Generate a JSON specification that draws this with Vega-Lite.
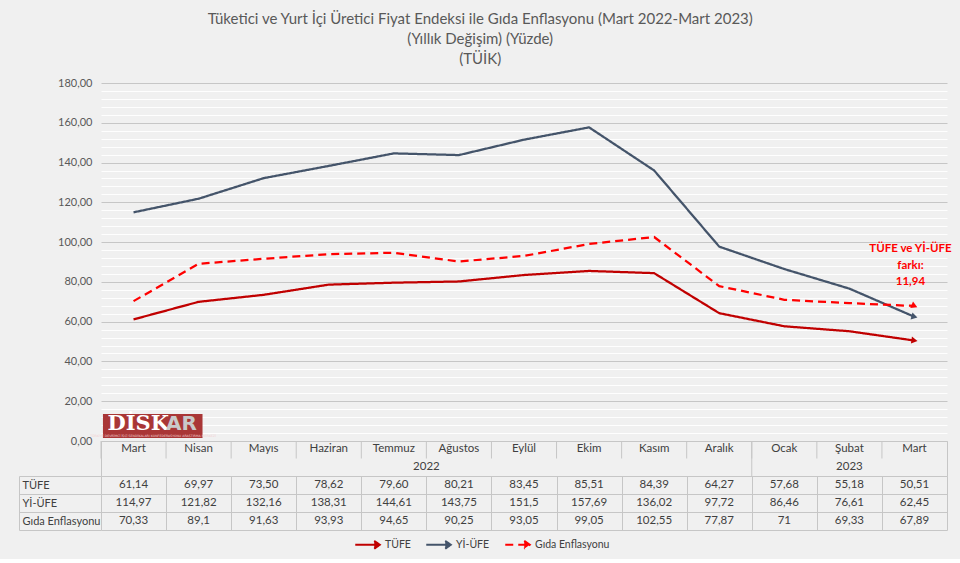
{
  "$schema": "https://vega.github.io/schema/vega-lite/v6.json",
  "background": "#F0F0F0",
  "padding": {"left": 18, "top": 12, "right": 14, "bottom": 6},
  "bounds": "flush",
  "title": {
    "text": ["Tüketici ve Yurt İçi Üretici Fiyat Endeksi ile Gıda Enflasyonu (Mart 2022-Mart 2023)", "(Yıllık Değişim) (Yüzde)", "(TÜİK)"],
    "anchor": "middle", "frame": "bounds", "font": "Lato", "fontSize": 15, "fontWeight": "normal", "color": "#595959", "lineHeight": 20, "offset": 10, "dx": -5
  },
  "datasets": {
    "d": [
      {"k": "Mart 2022", "ay": "Mart", "seri": "TÜFE", "v": 61.14, "t": "61,14"},
      {"k": "Nisan 2022", "ay": "Nisan", "seri": "TÜFE", "v": 69.97, "t": "69,97"},
      {"k": "Mayıs 2022", "ay": "Mayıs", "seri": "TÜFE", "v": 73.50, "t": "73,50"},
      {"k": "Haziran 2022", "ay": "Haziran", "seri": "TÜFE", "v": 78.62, "t": "78,62"},
      {"k": "Temmuz 2022", "ay": "Temmuz", "seri": "TÜFE", "v": 79.60, "t": "79,60"},
      {"k": "Ağustos 2022", "ay": "Ağustos", "seri": "TÜFE", "v": 80.21, "t": "80,21"},
      {"k": "Eylül 2022", "ay": "Eylül", "seri": "TÜFE", "v": 83.45, "t": "83,45"},
      {"k": "Ekim 2022", "ay": "Ekim", "seri": "TÜFE", "v": 85.51, "t": "85,51"},
      {"k": "Kasım 2022", "ay": "Kasım", "seri": "TÜFE", "v": 84.39, "t": "84,39"},
      {"k": "Aralık 2022", "ay": "Aralık", "seri": "TÜFE", "v": 64.27, "t": "64,27"},
      {"k": "Ocak 2023", "ay": "Ocak", "seri": "TÜFE", "v": 57.68, "t": "57,68"},
      {"k": "Şubat 2023", "ay": "Şubat", "seri": "TÜFE", "v": 55.18, "t": "55,18"},
      {"k": "Mart 2023", "ay": "Mart", "seri": "TÜFE", "v": 50.51, "t": "50,51"},
      {"k": "Mart 2022", "ay": "Mart", "seri": "Yİ-ÜFE", "v": 114.97, "t": "114,97"},
      {"k": "Nisan 2022", "ay": "Nisan", "seri": "Yİ-ÜFE", "v": 121.82, "t": "121,82"},
      {"k": "Mayıs 2022", "ay": "Mayıs", "seri": "Yİ-ÜFE", "v": 132.16, "t": "132,16"},
      {"k": "Haziran 2022", "ay": "Haziran", "seri": "Yİ-ÜFE", "v": 138.31, "t": "138,31"},
      {"k": "Temmuz 2022", "ay": "Temmuz", "seri": "Yİ-ÜFE", "v": 144.61, "t": "144,61"},
      {"k": "Ağustos 2022", "ay": "Ağustos", "seri": "Yİ-ÜFE", "v": 143.75, "t": "143,75"},
      {"k": "Eylül 2022", "ay": "Eylül", "seri": "Yİ-ÜFE", "v": 151.5, "t": "151,5"},
      {"k": "Ekim 2022", "ay": "Ekim", "seri": "Yİ-ÜFE", "v": 157.69, "t": "157,69"},
      {"k": "Kasım 2022", "ay": "Kasım", "seri": "Yİ-ÜFE", "v": 136.02, "t": "136,02"},
      {"k": "Aralık 2022", "ay": "Aralık", "seri": "Yİ-ÜFE", "v": 97.72, "t": "97,72"},
      {"k": "Ocak 2023", "ay": "Ocak", "seri": "Yİ-ÜFE", "v": 86.46, "t": "86,46"},
      {"k": "Şubat 2023", "ay": "Şubat", "seri": "Yİ-ÜFE", "v": 76.61, "t": "76,61"},
      {"k": "Mart 2023", "ay": "Mart", "seri": "Yİ-ÜFE", "v": 62.45, "t": "62,45"},
      {"k": "Mart 2022", "ay": "Mart", "seri": "Gıda Enflasyonu", "v": 70.33, "t": "70,33"},
      {"k": "Nisan 2022", "ay": "Nisan", "seri": "Gıda Enflasyonu", "v": 89.1, "t": "89,1"},
      {"k": "Mayıs 2022", "ay": "Mayıs", "seri": "Gıda Enflasyonu", "v": 91.63, "t": "91,63"},
      {"k": "Haziran 2022", "ay": "Haziran", "seri": "Gıda Enflasyonu", "v": 93.93, "t": "93,93"},
      {"k": "Temmuz 2022", "ay": "Temmuz", "seri": "Gıda Enflasyonu", "v": 94.65, "t": "94,65"},
      {"k": "Ağustos 2022", "ay": "Ağustos", "seri": "Gıda Enflasyonu", "v": 90.25, "t": "90,25"},
      {"k": "Eylül 2022", "ay": "Eylül", "seri": "Gıda Enflasyonu", "v": 93.05, "t": "93,05"},
      {"k": "Ekim 2022", "ay": "Ekim", "seri": "Gıda Enflasyonu", "v": 99.05, "t": "99,05"},
      {"k": "Kasım 2022", "ay": "Kasım", "seri": "Gıda Enflasyonu", "v": 102.55, "t": "102,55"},
      {"k": "Aralık 2022", "ay": "Aralık", "seri": "Gıda Enflasyonu", "v": 77.87, "t": "77,87"},
      {"k": "Ocak 2023", "ay": "Ocak", "seri": "Gıda Enflasyonu", "v": 71, "t": "71"},
      {"k": "Şubat 2023", "ay": "Şubat", "seri": "Gıda Enflasyonu", "v": 69.33, "t": "69,33"},
      {"k": "Mart 2023", "ay": "Mart", "seri": "Gıda Enflasyonu", "v": 67.89, "t": "67,89"}
    ]
  },
  "spacing": 0,
  "vconcat": [
    {
      "width": 846,
      "height": 358,
      "layer": [
        {
          "data": {"values": [{}]},
          "mark": {"type": "rect", "color": "#A93636"},
          "encoding": {
            "x": {"datum": 0.03, "type": "quantitative", "scale": {"domain": [0, 13], "nice": false, "zero": false}, "axis": null},
            "x2": {"datum": 1.56},
            "y": {"datum": 1.5, "type": "quantitative", "scale": {"domain": [0, 180], "nice": false},
              "axis": {"orient": "left", "title": null, "values": [4, 8, 12, 16, 24, 28, 32, 36, 44, 48, 52, 56, 64, 68, 72, 76, 84, 88, 92, 96, 104, 108, 112, 116, 124, 128, 132, 136, 144, 148, 152, 156, 164, 168, 172, 176], "grid": true, "gridColor": "#FFFFFF", "gridOpacity": 0.9, "labels": false, "ticks": false, "domain": false}},
            "y2": {"datum": 13.6}
          }
        },
        {
          "data": {"values": [{}]},
          "mark": {"type": "text", "color": "#FFFFFF", "font": "DejaVu Serif", "fontWeight": "bold", "fontSize": 21, "align": "left", "baseline": "middle"},
          "encoding": {
            "x": {"datum": 0.1, "type": "quantitative", "scale": {"domain": [0, 13], "nice": false, "zero": false}, "axis": null},
            "y": {"datum": 8.4, "type": "quantitative", "axis": null},
            "text": {"value": "DİSK"}
          }
        },
        {
          "data": {"values": [{}]},
          "mark": {"type": "text", "color": "#C9C9C9", "font": "DejaVu Sans", "fontWeight": "bold", "fontSize": 20, "align": "left", "baseline": "middle"},
          "encoding": {
            "x": {"datum": 1.0, "type": "quantitative", "scale": {"domain": [0, 13], "nice": false, "zero": false}, "axis": null},
            "y": {"datum": 8.4, "type": "quantitative", "axis": null},
            "text": {"value": "AR"}
          }
        },
        {
          "data": {"values": [{}]},
          "mark": {"type": "text", "color": "#F2D0D0", "font": "DejaVu Sans", "fontSize": 3.2, "align": "center", "baseline": "middle"},
          "encoding": {
            "x": {"datum": 0.8, "type": "quantitative", "scale": {"domain": [0, 13], "nice": false, "zero": false}, "axis": null},
            "y": {"datum": 2.6, "type": "quantitative", "axis": null},
            "text": {"value": "TÜRKİYE DEVRİMCİ İŞÇİ SENDİKALARI KONFEDERASYONU ARAŞTIRMA MERKEZİ"}
          }
        },
        {
          "data": {"name": "d"},
          "mark": {"type": "line", "strokeWidth": 2.25},
          "encoding": {
            "x": {"field": "k", "type": "ordinal", "scale": {"type": "point", "padding": 0.5, "domain": ["Mart 2022", "Nisan 2022", "Mayıs 2022", "Haziran 2022", "Temmuz 2022", "Ağustos 2022", "Eylül 2022", "Ekim 2022", "Kasım 2022", "Aralık 2022", "Ocak 2023", "Şubat 2023", "Mart 2023"]}, "axis": null},
            "y": {"field": "v", "type": "quantitative",
              "axis": {"orient": "left", "title": null, "values": [0, 20, 40, 60, 80, 100, 120, 140, 160, 180], "format": ".2f", "grid": true, "gridColor": "#C6C6C6", "ticks": false, "domain": false, "labelPadding": 9, "labelFont": "Lato", "labelFontSize": 11, "labelColor": "#595959"}},
            "color": {"field": "seri", "type": "nominal", "scale": {"domain": ["TÜFE", "Yİ-ÜFE", "Gıda Enflasyonu"], "range": ["#C00000", "#44546A", "#FF0000"]}, "legend": {"title": null, "orient": "none", "legendX": 253, "legendY": 448}},
            "strokeDash": {"field": "seri", "type": "nominal", "scale": {"domain": ["TÜFE", "Yİ-ÜFE", "Gıda Enflasyonu"], "range": [[1, 0], [1, 0], [8, 5]]}, "legend": {"title": null, "orient": "none", "legendX": 253, "legendY": 448}}
          }
        },
        {
          "data": {"name": "d"},
          "transform": [{"filter": "datum.k === 'Mart 2023'"}],
          "mark": {"type": "point", "shape": "triangle-right", "filled": true, "opacity": 1, "size": 50},
          "encoding": {
            "x": {"field": "k", "type": "ordinal", "scale": {"type": "point", "padding": 0.5, "domain": ["Mart 2022", "Nisan 2022", "Mayıs 2022", "Haziran 2022", "Temmuz 2022", "Ağustos 2022", "Eylül 2022", "Ekim 2022", "Kasım 2022", "Aralık 2022", "Ocak 2023", "Şubat 2023", "Mart 2023"]}, "axis": null},
            "y": {"field": "v", "type": "quantitative", "axis": null},
            "color": {"field": "seri", "type": "nominal", "legend": null},
            "angle": {"field": "seri", "type": "nominal", "scale": {"domain": ["TÜFE", "Yİ-ÜFE", "Gıda Enflasyonu"], "range": [8, 23, 3]}, "legend": null}
          }
        },
        {
          "data": {"values": [{}]},
          "mark": {"type": "text", "color": "#FF0000", "font": "Lato", "fontSize": 11.5, "fontWeight": "bold", "lineHeight": 16.5, "align": "center", "baseline": "middle", "dx": -4},
          "encoding": {
            "x": {"datum": "Mart 2023", "type": "ordinal", "scale": {"type": "point", "padding": 0.5, "domain": ["Mart 2022", "Nisan 2022", "Mayıs 2022", "Haziran 2022", "Temmuz 2022", "Ağustos 2022", "Eylül 2022", "Ekim 2022", "Kasım 2022", "Aralık 2022", "Ocak 2023", "Şubat 2023", "Mart 2023"]}, "axis": null},
            "y": {"datum": 96.5, "type": "quantitative", "axis": null},
            "text": {"value": ["TÜFE ve Yİ-ÜFE", "farkı:", "11,94"]}
          }
        }
      ],
      "resolve": {"scale": {"x": "independent"}, "axis": {"y": "independent"}}
    },
    {
      "width": 846,
      "height": 35,
      "view": {"stroke": "#C6C6C6"},
      "layer": [
        {
          "data": {"name": "d"},
          "transform": [{"filter": "datum.seri === 'TÜFE'"}],
          "mark": {"type": "rule", "color": "#C6C6C6", "strokeWidth": 1},
          "encoding": {
            "x": {"field": "k", "type": "ordinal", "bandPosition": 0, "scale": {"type": "band", "paddingInner": 0, "paddingOuter": 0, "domain": ["Mart 2022", "Nisan 2022", "Mayıs 2022", "Haziran 2022", "Temmuz 2022", "Ağustos 2022", "Eylül 2022", "Ekim 2022", "Kasım 2022", "Aralık 2022", "Ocak 2023", "Şubat 2023", "Mart 2023"]}, "axis": null},
            "y": {"datum": 0, "type": "quantitative", "scale": {"domain": [0, 2], "reverse": true, "nice": false}, "axis": null},
            "y2": {"datum": 1}
          }
        },
        {
          "data": {"values": [{}]},
          "mark": {"type": "rule", "color": "#C6C6C6", "strokeWidth": 1},
          "encoding": {
            "x": {"datum": "Ocak 2023", "type": "ordinal", "bandPosition": 0},
            "y": {"datum": 0, "type": "quantitative"},
            "y2": {"datum": 2}
          }
        },
        {
          "data": {"name": "d"},
          "transform": [{"filter": "datum.seri === 'TÜFE'"}],
          "mark": {"type": "text", "font": "Lato", "fontSize": 11.5, "color": "#404040", "baseline": "middle"},
          "encoding": {
            "x": {"field": "k", "type": "ordinal"},
            "y": {"datum": 0.47, "type": "quantitative"},
            "text": {"field": "ay"}
          }
        },
        {
          "data": {"values": [{}]},
          "mark": {"type": "text", "font": "Lato", "fontSize": 11.5, "color": "#404040", "baseline": "middle"},
          "encoding": {
            "x": {"datum": "Ağustos 2022", "type": "ordinal", "bandPosition": 0},
            "y": {"datum": 1.49, "type": "quantitative"},
            "text": {"value": "2022"}
          }
        },
        {
          "data": {"values": [{}]},
          "mark": {"type": "text", "font": "Lato", "fontSize": 11.5, "color": "#404040", "baseline": "middle"},
          "encoding": {
            "x": {"datum": "Şubat 2023", "type": "ordinal"},
            "y": {"datum": 1.49, "type": "quantitative"},
            "text": {"value": "2023"}
          }
        }
      ]
    },
    {
      "width": 846,
      "height": 54,
      "data": {"name": "d"},
      "layer": [
        {
          "mark": {"type": "text", "font": "Lato", "fontSize": 11.5, "color": "#404040", "baseline": "middle"},
          "encoding": {
            "x": {"field": "k", "type": "ordinal", "scale": {"type": "band", "paddingInner": 0, "paddingOuter": 0, "domain": ["Mart 2022", "Nisan 2022", "Mayıs 2022", "Haziran 2022", "Temmuz 2022", "Ağustos 2022", "Eylül 2022", "Ekim 2022", "Kasım 2022", "Aralık 2022", "Ocak 2023", "Şubat 2023", "Mart 2023"]},
              "axis": {"orient": "bottom", "title": null, "grid": true, "gridColor": "#C6C6C6", "tickBand": "extent", "labels": false, "ticks": false, "domain": false}},
            "y": {"field": "seri", "type": "nominal", "scale": {"type": "band", "paddingInner": 0, "paddingOuter": 0, "domain": ["TÜFE", "Yİ-ÜFE", "Gıda Enflasyonu"]},
              "axis": {"title": null, "grid": true, "gridColor": "#C6C6C6", "tickBand": "extent", "ticks": true, "tickSize": 82, "tickColor": "#C6C6C6", "domain": false, "labelAlign": "left", "labelPadding": -3, "labelLimit": 200, "labelFont": "Lato", "labelFontSize": 11, "labelColor": "#404040"}},
            "text": {"field": "t"}
          }
        },
        {
          "mark": {"type": "text", "opacity": 0},
          "encoding": {
            "y": {"field": "seri", "type": "nominal", "axis": {"orient": "left", "offset": 82, "title": null, "labels": false, "ticks": false, "grid": false, "domain": true, "domainColor": "#C6C6C6"}},
            "text": {"value": ""}
          }
        }
      ],
      "resolve": {"axis": {"y": "independent"}}
    }
  ],
  "config": {
    "view": {"stroke": null},
    "locale": {"number": {"decimal": ",", "thousands": ".", "grouping": [3], "currency": ["", " TL"]}},
    "legend": {"direction": "horizontal", "labelFont": "Lato", "labelFontSize": 10.5, "labelColor": "#404040", "symbolType": "M-1,0H0.95M0.55,-0.32L1,0L0.55,0.32", "symbolSize": 600, "symbolStrokeWidth": 2, "columnPadding": 11, "labelOffset": 4}
  }
}
